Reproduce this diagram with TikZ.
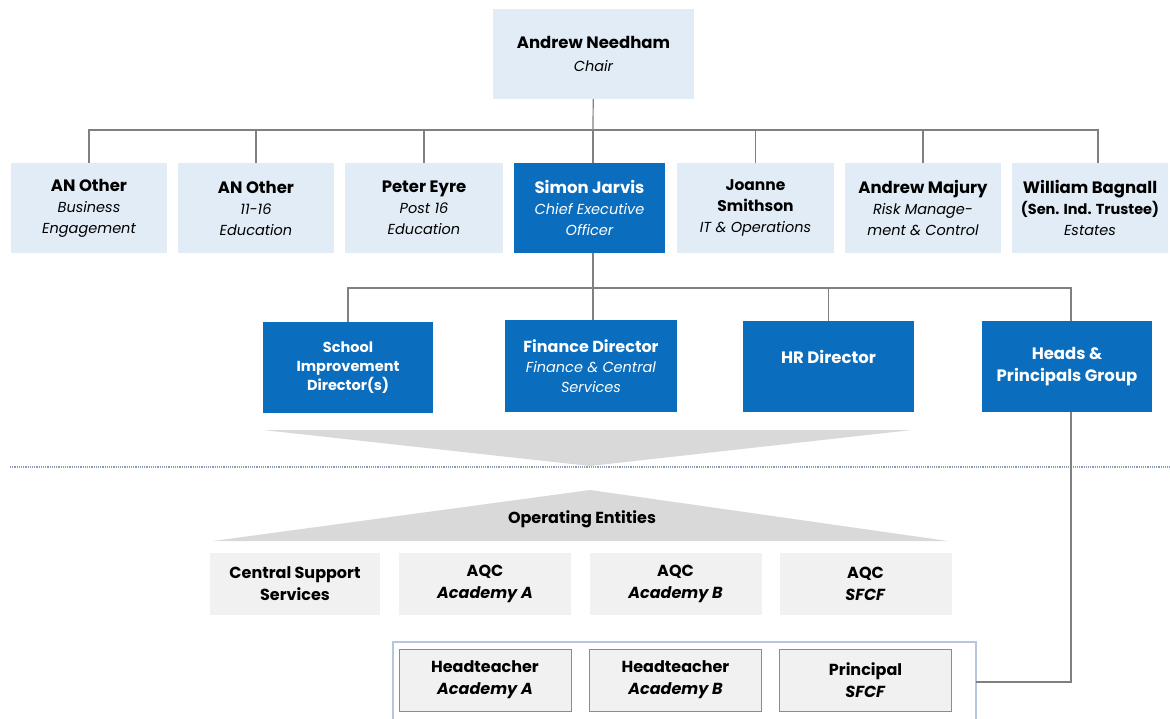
\documentclass[tikz,border=0pt]{standalone}
\usepackage{fontspec}
\setmainfont{Poppins}
\usetikzlibrary{positioning}

\definecolor{paleblue}{HTML}{E2ECF7}
\definecolor{chartblue}{HTML}{0A6DBE}
\definecolor{linegray}{HTML}{808080}
\definecolor{entgray}{HTML}{F1F1F1}
\definecolor{wedgegray}{HTML}{D9D9D9}
\definecolor{headline}{HTML}{8C8C8C}
\definecolor{groupline}{HTML}{B4C7DC}
\definecolor{dotline}{HTML}{8A9BB3}

% name line and role line
\newcommand\nm[2][16.5]{{\fontsize{#1}{21}\selectfont\bfseries #2}}
\newcommand\rl[1]{{\itshape #1}}

\tikzset{
  trustee/.style={fill=paleblue, minimum width=156pt, minimum height=90pt,
    inner sep=0pt, align=center, font=\fontsize{14.5}{21}\selectfont},
  exec/.style={trustee, fill=chartblue, text=white},
  director/.style={fill=chartblue, text=white, minimum width=171pt,
    minimum height=91pt, inner sep=0pt, align=center,
    font=\fontsize{14.5}{20}\selectfont},
  entity/.style={fill=entgray, minimum width=172pt, minimum height=62pt,
    inner sep=0pt, align=center, font=\bfseries\fontsize{16}{22}\selectfont},
  headbox/.style={entity, draw=headline, line width=1pt},
  link/.style={draw=linegray, line width=1.2pt},
}

\begin{document}
\begin{tikzpicture}[x=1pt,y=-1pt]
  \useasboundingbox (0,0) rectangle (1170,719);

  % board of trustees
  \node[trustee, minimum width=201pt, font=\fontsize{14.5}{23}\selectfont] (chair) at (593.5,54)
    {\nm{Andrew Needham}\\\rl{Chair}};
  \node[trustee] (t1) at (89,208)
    {\nm{AN Other}\\\rl{Business}\\\rl{Engagement}};
  \node[trustee] (t2) at (256,208)
    {\nm{AN Other}\\\rl{11-16}\\\rl{Education}};
  \node[trustee, minimum width=158pt] (t3) at (424,208)
    {\nm{Peter Eyre}\\\rl{Post 16}\\\rl{Education}};
  \node[exec, minimum width=151pt] (ceo) at (589.5,208)
    {\nm{Simon Jarvis}\\\rl{Chief Executive}\\\rl{Officer}};
  \node[trustee, minimum width=157pt] (t5) at (755.5,208)
    {\nm[15.5]{Joanne}\\\nm[15.5]{Smithson}\\\rl{IT \& Operations}};
  \node[trustee] (t6) at (923,208)
    {\nm{Andrew Majury}\\\rl{Risk Manage-}\\\rl{ment \& Control}};
  \node[trustee] (t7) at (1090,208)
    {\nm{William Bagnall}\\\nm[14.5]{(Sen. Ind. Trustee)}\\\rl{Estates}};

  \coordinate (bus1) at (593,130);
  \draw[link] (chair) -- (bus1);
  \draw[link] (t1.north) |- (bus1);
  \draw[link] (t2.north) |- (bus1);
  \draw[link] (t3.north) |- (bus1);
  \draw[link] (ceo.north -| bus1) -- (bus1);
  \draw[link] (t5.north) |- (bus1);
  \draw[link] (t6.north) |- (bus1);
  \draw[link] ([xshift=8pt]t7.north) |- (bus1);

  % executive team
  \node[director, minimum width=170pt, font=\fontsize{14.5}{19}\selectfont] (sid) at (348,367.5)
    {\nm[14.5]{School}\\\nm[14.5]{Improvement}\\\nm[14.5]{Director(s)}};
  \node[director, minimum width=172pt] (fd) at (591,366)
    {\nm[16]{Finance Director}\\\rl{Finance \& Central}\\\rl{Services}};
  \node[director] (hr) at (828.5,366.5)
    {\nm[16.5]{HR Director}\\\mbox{}};
  \node[director, minimum width=170pt, font=\fontsize{14.5}{22}\selectfont] (hpg) at (1067,366.5)
    {\nm[16.5]{Heads \&}\\\nm[16.5]{Principals Group}};

  \coordinate (bus2) at (593,288);
  \draw[link] (ceo.south -| bus2) -- (bus2);
  \draw[link] (sid.north) |- (bus2);
  \draw[link] (fd.north -| bus2) -- (bus2);
  \draw[link] (hr.north) |- (bus2);
  \draw[link] ([xshift=4pt]hpg.north) |- (bus2);

  % split between trust and operating entities
  \fill[wedgegray] (263,430) -- (912,430) -- (590,466) -- cycle;
  \draw[dotline, line width=1.3pt, dash pattern=on 1.1pt off 1.1pt]
    (10,467) -- (1170,467);
  \fill[wedgegray] (213,541) -- (948,541) -- (590,490) -- cycle;
  \node[font=\bfseries\fontsize{16}{18}\selectfont] (ops) at (582,519)
    {Operating Entities};

  \node[entity, minimum width=170pt] (css) at (295,584)
    {Central Support\\Services};
  \node[entity] (aqca) at (485,584) {AQC\\\textit{Academy A}};
  \node[entity] (aqcb) at (675.5,584) {AQC\\\textit{Academy B}};
  \node[entity] (aqcs) at (865.5,584) {AQC\\\textit{SFCF}};

  % heads group
  \draw[groupline, line width=1.2pt] (393,719) |- (976,642) -- (976,719);
  \node[headbox] (hta) at (485,680) {Headteacher\\\textit{Academy A}};
  \node[headbox] (htb) at (675.5,680) {Headteacher\\\textit{Academy B}};
  \node[headbox] (prin) at (865.5,680) {Principal\\\textit{SFCF}};

  \coordinate (grp) at (976,682);
  \draw[link] ([xshift=4pt]hpg.south) |- (grp);
\end{tikzpicture}
\end{document}
